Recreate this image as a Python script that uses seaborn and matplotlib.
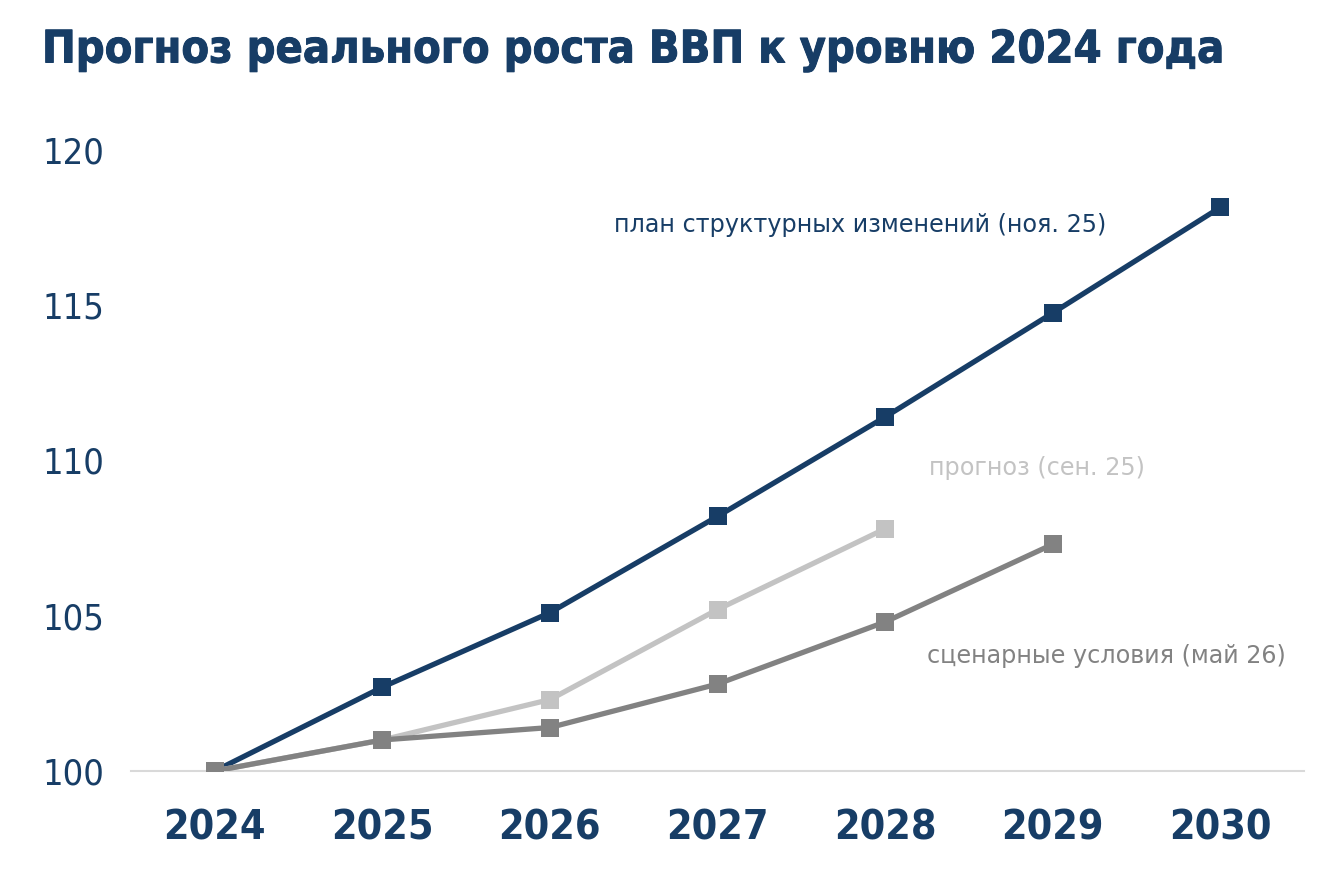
import matplotlib
matplotlib.use("Agg")
import matplotlib.pyplot as plt
import matplotlib.patheffects as pe
import seaborn as sns
import pandas as pd

# данные
years = [2024, 2025, 2026, 2027, 2028, 2029, 2030]
plan_nov25 = [100.0, 102.7, 105.1, 108.2, 111.4, 114.75, 118.15]
years_sep25 = [2024, 2025, 2026, 2027, 2028]
forecast_sep25 = [100.0, 101.0, 102.3, 105.2, 107.8]
years_may26 = [2024, 2025, 2026, 2027, 2028, 2029]
scenario_may26 = [100.0, 101.0, 101.4, 102.8, 104.8, 107.3]
y_ticks = [100, 105, 110, 115, 120]

navy = "#173d66"
light = "#c3c3c3"
mid = "#828282"

sns.set_theme(style="white")
plt.rcParams['font.family'] = ['DejaVu Sans']
plt.rcParams['font.stretch'] = 'condensed'

fig = plt.figure(figsize=(13.22, 8.8), dpi=100)
ax = fig.add_axes([131 / 1322, 1 - 771 / 880, (1304 - 131) / 1322, (771 - 150) / 880])

series = [
    (years, plan_nov25, navy),
    (years_sep25, forecast_sep25, light),
    (years_may26, scenario_may26, mid),
]
for xs, ys, col in series:
    d = pd.DataFrame({"year": xs, "value": ys})
    sns.lineplot(data=d, x="year", y="value", color=col, linewidth=3.8,
                 marker="s", markersize=12.5, markeredgewidth=0, ax=ax, zorder=3)

ax.set_xlim(2023.5, 2030.5)
ax.set_ylim(100, 120)
ax.set_xticks(years)
ax.set_xticklabels([str(y) for y in years], fontsize=29.5, fontweight="bold",
                   color=navy, fontstretch="condensed")
ax.set_yticks(y_ticks)
ax.set_yticklabels([str(v) for v in y_ticks], fontsize=26, color=navy,
                   fontstretch="condensed", ha="left")
ax.tick_params(axis="x", length=0, pad=27)
ax.tick_params(axis="y", length=0, pad=64)
ax.set_xlabel("")
ax.set_ylabel("")
for s in ["top", "right", "left"]:
    ax.spines[s].set_visible(False)
ax.spines["bottom"].set_color("#d9d9d9")
ax.spines["bottom"].set_linewidth(1.5)
ax.spines["bottom"].set_zorder(1)
ax.grid(False)

ax.text(2026.38, 117.6, "план структурных изменений (ноя. 25)", color=navy,
        fontsize=17.2, va="center", ha="left", fontstretch="normal")
ax.text(2028.26, 109.76, "прогноз (сен. 25)", color=light,
        fontsize=17.2, va="center", ha="left", fontstretch="normal")
ax.text(2028.25, 103.7, "сценарные условия (май 26)", color=mid,
        fontsize=17.2, va="center", ha="left", fontstretch="normal")

fig.text(42 / 1322, 1 - 50 / 880, "Прогноз реального роста ВВП к уровню 2024 года",
         fontsize=32.3, fontweight="bold", color=navy, va="center", ha="left",
         fontstretch="condensed",
         path_effects=[pe.Stroke(linewidth=0.7, foreground=navy), pe.Normal()])

fig.savefig("out.png", dpi=100, facecolor="white")
